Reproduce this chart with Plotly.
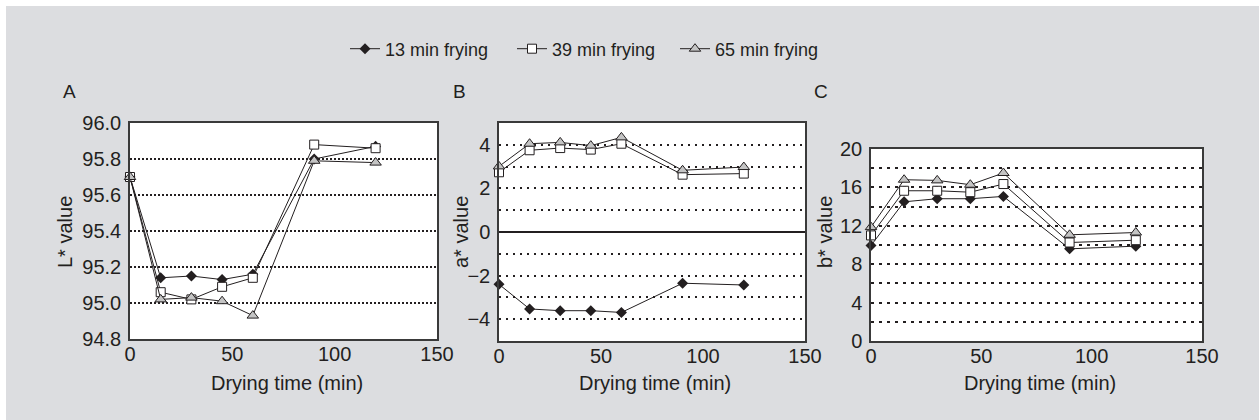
import plotly.graph_objects as go

# ---------------- data ----------------
time_min = [0, 15, 30, 45, 60, 90, 120]
series_names = ["13 min frying", "39 min frying", "65 min frying"]

L_13 = [95.70, 95.14, 95.15, 95.13, 95.16, 95.80, 95.87]
L_39 = [95.70, 95.06, 95.02, 95.09, 95.14, 95.88, 95.86]
L_65 = [95.70, 95.02, 95.03, 95.01, 94.93, 95.79, 95.78]

a_13 = [-2.40, -3.53, -3.61, -3.61, -3.69, -2.35, -2.43]
a_39 = [2.74, 3.75, 3.85, 3.78, 4.05, 2.63, 2.68]
a_65 = [3.01, 4.05, 4.11, 3.96, 4.34, 2.83, 2.98]

b_13 = [9.95, 14.50, 14.82, 14.82, 15.06, 9.60, 9.88]
b_39 = [11.00, 15.65, 15.65, 15.50, 16.35, 10.26, 10.50]
b_65 = [11.86, 16.80, 16.73, 16.28, 17.50, 11.06, 11.30]

panel_letters = ["A", "B", "C"]
y_titles = ["L* value", "a* value", "b* value"]
x_title = "Drying time (min)"

# ---------------- style ----------------
W, H = 1259, 420
FONT = "Liberation Sans, Arial, sans-serif"
INK = "#231f20"
BG = "#dcdde0"

def fx(px):
    return px / W

def fy(py):
    return 1 - py / H

markers = [
    dict(symbol="diamond", size=8.5, color=INK, line=dict(width=0)),
    dict(symbol="square", size=9, color="white", line=dict(color=INK, width=1)),
    dict(symbol="triangle-up", size=10, color="#c4c4c4", line=dict(color=INK, width=1)),
]

panels = [
    (L_13, L_39, L_65),
    (a_13, a_39, a_65),
    (b_13, b_39, b_65),
]

fig = go.Figure()
legend_ids = ["legend", "legend2", "legend3"]
for p, data in enumerate(panels):
    xa = "x" if p == 0 else f"x{p+1}"
    ya = "y" if p == 0 else f"y{p+1}"
    for s, vals in enumerate(data):
        fig.add_trace(go.Scatter(
            x=time_min, y=vals, mode="lines+markers",
            name=series_names[s], legendgroup=series_names[s],
            legend=legend_ids[s], showlegend=(p == 0),
            line=dict(color=INK, width=1), marker=markers[s],
            xaxis=xa, yaxis=ya, cliponaxis=False,
        ))

# plot-area boxes in pixels (left, right, top, bottom)
boxes = [(130, 437, 123, 339), (499, 805, 123, 341), (871, 1202, 149, 341)]

tickfont = dict(family=FONT, size=20, color=INK)
axis_common = dict(showline=True, mirror=True, linecolor="#3a3a3a", linewidth=1.5,
                   ticks="", tickfont=tickfont, zeroline=False, automargin=False)

layout = dict(
    template="none",
    width=W, height=H, margin=dict(l=0, r=0, t=0, b=0, pad=0, autoexpand=False),
    paper_bgcolor=BG, plot_bgcolor="white",
    font=dict(family=FONT, color=INK),
)

yspecs = [
    dict(range=[94.8, 96.0], tick0=94.8, dtick=0.2, tickformat=".1f",
         showgrid=True, gridcolor=INK, gridwidth=1.5, griddash="2px,2px"),
    dict(range=[-5, 5], tick0=0, dtick=2, showgrid=True, gridcolor=INK, gridwidth=1.5,
         griddash="2px,5px",
         minor=dict(dtick=1, tick0=0, showgrid=True, gridcolor=INK, gridwidth=1.5, griddash="2px,5px"),
         zeroline=True, zerolinecolor=INK, zerolinewidth=1.5),
    dict(range=[0, 20], tick0=0, dtick=4, showgrid=True, gridcolor=INK, gridwidth=1.5,
         griddash="3px,5px",
         minor=dict(dtick=2, tick0=0, showgrid=True, gridcolor=INK, gridwidth=1.5, griddash="3px,5px")),
]

for p, (l, r, t, b) in enumerate(boxes):
    xk = "xaxis" if p == 0 else f"xaxis{p+1}"
    yk = "yaxis" if p == 0 else f"yaxis{p+1}"
    yname = "y" if p == 0 else f"y{p+1}"
    xname = "x" if p == 0 else f"x{p+1}"
    xa = dict(axis_common)
    xa.update(domain=[fx(l), fx(r)], range=[0, 150], dtick=50, tick0=0,
              showgrid=False, anchor=yname, ticklabelstandoff=-4)
    ya = dict(axis_common)
    ya.update(domain=[fy(b), fy(t)], anchor=xname, ticklabelstandoff=3)
    ya.update(yspecs[p])
    layout[xk] = xa
    layout[yk] = ya

# legends (one per series, placed individually)
leg_text_x = [386, 553, 716]
for i, lid in enumerate(legend_ids):
    layout[lid] = dict(
        x=fx(leg_text_x[i] - 41), y=fy(49), xanchor="left", yanchor="middle",
        orientation="h", bgcolor="rgba(0,0,0,0)", borderwidth=0,
        font=dict(family=FONT, size=18, color=INK), itemwidth=30,
    )

fig.update_layout(**layout)

# white border strip on top/left
fig.add_shape(type="rect", xref="paper", yref="paper", x0=0, x1=1, y0=fy(6), y1=1,
              fillcolor="white", line=dict(width=0), layer="below")
fig.add_shape(type="rect", xref="paper", yref="paper", x0=0, x1=fx(6), y0=0, y1=1,
              fillcolor="white", line=dict(width=0), layer="below")

letter_pos = [(69, 91), (459, 91), (821, 91)]
ytitle_pos = [(65, 232), (461, 232), (825, 232)]
for p in range(3):
    lx, ly = letter_pos[p]
    fig.add_annotation(text=panel_letters[p], x=fx(lx), y=fy(ly), xref="paper", yref="paper",
                       showarrow=False, xanchor="center", yanchor="middle",
                       font=dict(family=FONT, size=19, color=INK))
    tx, ty = ytitle_pos[p]
    fig.add_annotation(text=y_titles[p], x=fx(tx), y=fy(ty), xref="paper", yref="paper",
                       showarrow=False, xanchor="center", yanchor="middle", textangle=-90,
                       font=dict(family=FONT, size=20, color=INK))
    l, r, t, b = boxes[p]
    fig.add_annotation(text=x_title, x=fx((l + r) / 2 + 3), y=fy(383), xref="paper", yref="paper",
                       showarrow=False, xanchor="center", yanchor="middle",
                       font=dict(family=FONT, size=20, color=INK))

fig.write_html(
    "out.html",
    config={"displayModeBar": False},
    post_script="document.body.style.margin='0';document.body.style.overflow='hidden';",
)
